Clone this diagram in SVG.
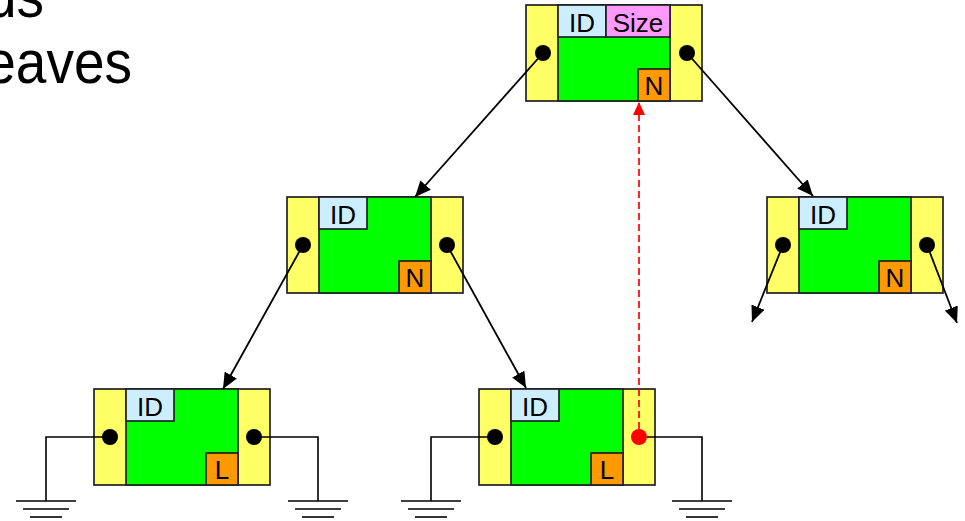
<svg xmlns="http://www.w3.org/2000/svg" width="965" height="521" viewBox="0 0 965 521">
  <style>
    .slide { font-family: "Liberation Sans", Arial, sans-serif; font-size: 55px; fill: #000; }
    .strip { fill: #ffff66; stroke: #222; stroke-width: 1.7; }
    .body { fill: #00ff00; stroke: #222; stroke-width: 1.7; }
    .id { fill: #cceeff; stroke: #222; stroke-width: 1.7; }
    .size { fill: #ff99ff; stroke: #222; stroke-width: 1.7; }
    .flag { fill: #ff9900; stroke: #222; stroke-width: 1.7; }
    .lbl { font-family: "Liberation Sans", Arial, sans-serif; font-size: 26px; fill: #000; text-anchor: middle; }
    .ptr { fill: #000; }
    .edge { stroke: #000; stroke-width: 1.8; fill: none; marker-end: url(#arrow); }
    .wire { stroke: #000; stroke-width: 1.6; fill: none; }
    .thread { stroke: #ff0000; stroke-width: 1.7; fill: none; stroke-dasharray: 7 4; marker-end: url(#arrowRed); }
  </style>
  <defs>
    <marker id="arrow" markerUnits="userSpaceOnUse" markerWidth="17" markerHeight="14" refX="16" refY="7" orient="auto">
      <path d="M0,0 L16,7 L0,14 Z" fill="#000"/>
    </marker>
    <marker id="arrowRed" markerUnits="userSpaceOnUse" markerWidth="14" markerHeight="12" refX="13" refY="6" orient="auto">
      <path d="M0,0 L13,6 L0,12 Z" fill="#ff0000"/>
    </marker>
    <!-- ground symbol, origin at top of wire drop -->
    <g id="ground">
      <line x1="-30" y1="0" x2="30" y2="0" class="wire"/>
      <line x1="-23" y1="8" x2="23" y2="8" class="wire"/>
      <line x1="-16" y1="16" x2="16" y2="16" class="wire"/>
    </g>
  </defs>

  <rect width="965" height="521" fill="#fff"/>

  <!-- slide bullet text fragments -->
  <text class="slide" x="44" y="17" text-anchor="end" transform="translate(0,17) scale(1,1.12) translate(0,-17)">ds</text>
  <text class="slide" x="132" y="83" text-anchor="end" transform="translate(0,83) scale(1,1.12) translate(0,-83)">eaves</text>

  <!-- root node -->
  <g id="node-root" transform="translate(526,5)">
    <rect class="strip" x="0" y="0" width="176" height="96"/>
    <rect class="body" x="32" y="0" width="112" height="96"/>
    <rect class="id" x="32" y="0" width="48" height="32"/>
    <text class="lbl" x="56" y="27">ID</text>
    <rect class="size" x="80" y="0" width="64" height="32"/>
    <text class="lbl" x="112" y="27">Size</text>
    <rect class="flag" x="112" y="64" width="32" height="32"/>
    <text class="lbl" x="128" y="90">N</text>
    <circle class="ptr" cx="17" cy="48" r="8"/>
    <circle class="ptr" cx="161" cy="48" r="8"/>
  </g>

  <!-- left internal node -->
  <g id="node-left" transform="translate(287,197)">
    <rect class="strip" x="0" y="0" width="176" height="96"/>
    <rect class="body" x="32" y="0" width="112" height="96"/>
    <rect class="id" x="32" y="0" width="48" height="32"/>
    <text class="lbl" x="56" y="27">ID</text>
    <rect class="flag" x="112" y="64" width="32" height="32"/>
    <text class="lbl" x="128" y="90">N</text>
    <circle class="ptr" cx="16" cy="48" r="8"/>
    <circle class="ptr" cx="160" cy="48" r="8"/>
  </g>

  <!-- right internal node -->
  <g id="node-right" transform="translate(767,197)">
    <rect class="strip" x="0" y="0" width="176" height="96"/>
    <rect class="body" x="32" y="0" width="112" height="96"/>
    <rect class="id" x="32" y="0" width="48" height="32"/>
    <text class="lbl" x="56" y="27">ID</text>
    <rect class="flag" x="112" y="64" width="32" height="32"/>
    <text class="lbl" x="128" y="90">N</text>
    <circle class="ptr" cx="16" cy="48" r="8"/>
    <circle class="ptr" cx="160" cy="48" r="8"/>
  </g>

  <!-- leaf nodes -->
  <g id="leaf-1" transform="translate(94,389)">
    <rect class="strip" x="0" y="0" width="176" height="96"/>
    <rect class="body" x="32" y="0" width="112" height="96"/>
    <rect class="id" x="32" y="0" width="48" height="32"/>
    <text class="lbl" x="56" y="27">ID</text>
    <rect class="flag" x="112" y="64" width="32" height="32"/>
    <text class="lbl" x="128" y="90">L</text>
    <circle class="ptr" cx="16" cy="48" r="8"/>
    <circle class="ptr" cx="160" cy="48" r="8"/>
  </g>

  <g id="leaf-2" transform="translate(479,389)">
    <rect class="strip" x="0" y="0" width="176" height="96"/>
    <rect class="body" x="32" y="0" width="112" height="96"/>
    <rect class="id" x="32" y="0" width="48" height="32"/>
    <text class="lbl" x="56" y="27">ID</text>
    <rect class="flag" x="112" y="64" width="32" height="32"/>
    <text class="lbl" x="128" y="90">L</text>
    <circle class="ptr" cx="16" cy="48" r="8"/>
    <circle cx="160" cy="48" r="8" fill="#ff0000"/>
  </g>

  <!-- connectors, drawn over the nodes so they start at the pointer dots -->
  <g id="connectors">
    <line class="edge" x1="543" y1="53" x2="415" y2="197"/>
    <line class="edge" x1="687" y1="53" x2="813" y2="196"/>
    <line class="edge" x1="303" y1="245" x2="223" y2="389"/>
    <line class="edge" x1="447" y1="245" x2="526" y2="388"/>
    <line class="edge" x1="783" y1="245" x2="752" y2="322"/>
    <line class="edge" x1="927" y1="245" x2="957" y2="323"/>
    <!-- null pointers to ground -->
    <polyline class="wire" points="110,437 46,437 46,501"/>
    <use href="#ground" x="46" y="501"/>
    <polyline class="wire" points="254,437 318,437 318,501"/>
    <use href="#ground" x="318" y="501"/>
    <polyline class="wire" points="495,437 431,437 431,501"/>
    <use href="#ground" x="431" y="501"/>
    <polyline class="wire" points="647,437 702,437 702,501"/>
    <use href="#ground" x="702" y="501"/>
    <!-- thread link back to ancestor -->
    <line class="thread" x1="639" y1="429" x2="639" y2="102"/>
  </g>
</svg>
